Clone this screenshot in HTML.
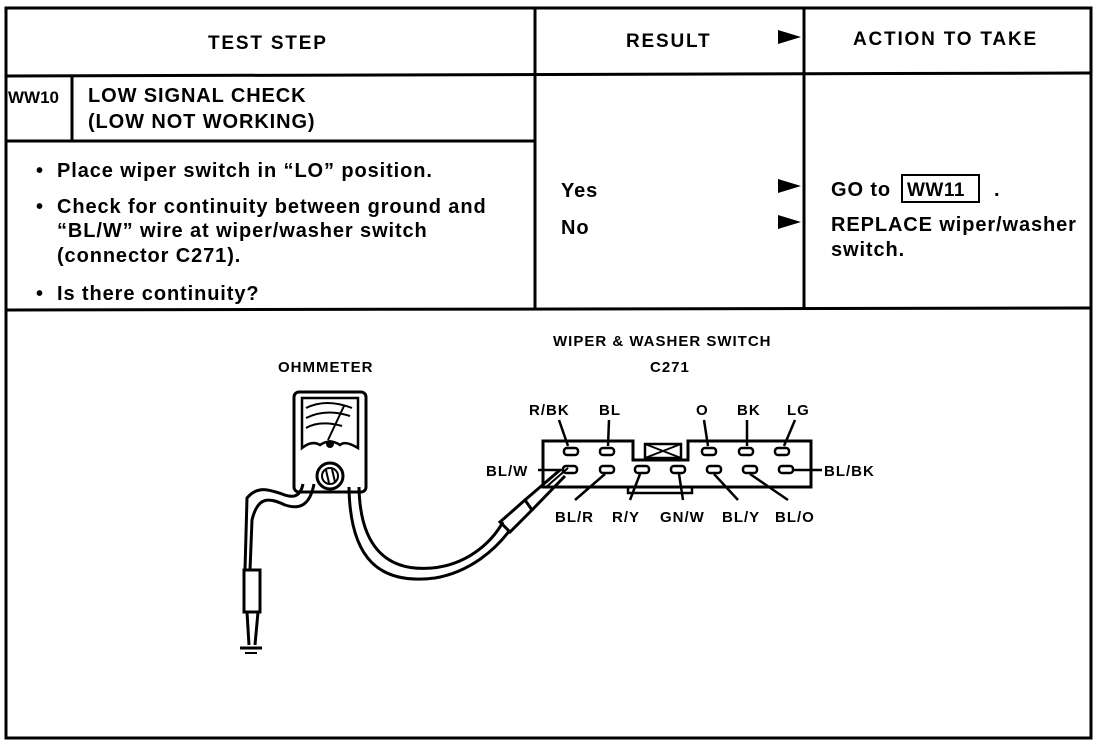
<!DOCTYPE html>
<html><head><meta charset="utf-8"><style>
html,body{margin:0;padding:0;background:#fff;}
svg{display:block;}
text{font-family:"Liberation Sans",Arial,sans-serif;fill:#000;}
.h{font-weight:bold;font-size:19px;letter-spacing:1.8px;}
.t{font-size:20px;font-weight:bold;letter-spacing:0.9px;}
.s{font-size:15px;font-weight:bold;letter-spacing:1px;}
</style></head><body>
<svg width="1120" height="740" viewBox="0 0 1120 740" xmlns="http://www.w3.org/2000/svg">
<g stroke="#000" stroke-width="3" fill="none">
<rect x="6" y="8" width="1085" height="730"/>
<line x1="535" y1="8" x2="535" y2="310"/>
<line x1="804" y1="8" x2="804" y2="310"/>
<line x1="6" y1="76" x2="1091" y2="73"/>
<line x1="6" y1="141" x2="535" y2="141"/>
<line x1="72" y1="76" x2="72" y2="141"/>
<line x1="6" y1="310" x2="1091" y2="308"/>
<rect x="902" y="175" width="77" height="27" stroke-width="2"/>
</g>
<g fill="#000">
<polygon points="778,30 801,37 778,44"/>
<polygon points="778,179 801,186 778,193"/>
<polygon points="778,215 801,222 778,229"/>
</g>
<text class="h" x="208" y="49">TEST STEP</text>
<text class="h" x="626" y="47">RESULT</text>
<text class="h" x="853" y="45">ACTION TO TAKE</text>
<text class="h" x="8" y="103" style="font-size:17px;letter-spacing:0">WW10</text>
<text class="t" x="88" y="102">LOW SIGNAL CHECK</text>
<text class="t" x="88" y="128">(LOW NOT WORKING)</text>
<text class="t" x="36" y="177">•</text>
<text class="t" x="57" y="177">Place wiper switch in “LO” position.</text>
<text class="t" x="36" y="213">•</text>
<text class="t" x="57" y="213">Check for continuity between ground and</text>
<text class="t" x="57" y="237">“BL/W” wire at wiper/washer switch</text>
<text class="t" x="57" y="262">(connector C271).</text>
<text class="t" x="36" y="300">•</text>
<text class="t" x="57" y="300">Is there continuity?</text>
<text class="t" x="561" y="197">Yes</text>
<text class="t" x="561" y="234">No</text>
<text class="t" x="831" y="196">GO to</text>
<text class="h" x="907" y="196" style="letter-spacing:0.5px">WW11</text>
<text class="t" x="994" y="196">.</text>
<text class="t" x="831" y="231">REPLACE wiper/washer</text>
<text class="t" x="831" y="256">switch.</text>

<text class="s" x="553" y="346">WIPER &amp; WASHER SWITCH</text>
<text class="s" x="650" y="372">C271</text>
<text class="s" x="278" y="372">OHMMETER</text>

<g stroke="#000" stroke-width="3" fill="none">
<rect x="294" y="392" width="72" height="100" rx="5"/>
<path d="M302 398 H358 V448 Q345 440 340 445 Q330 438 320 445 Q312 440 302 448 Z" stroke-width="2.5"/>
<path d="M306 408 Q326 398 352 408 M306 418 Q326 408 350 416 M306 428 Q320 420 342 426" stroke-width="2"/>
<line x1="328" y1="440" x2="344" y2="406" stroke-width="2"/>
<circle cx="330" cy="444" r="2.5" fill="#000"/>
<circle cx="330" cy="476" r="13"/>
<circle cx="330" cy="476" r="8" stroke-width="2"/>
<line x1="326" y1="470" x2="329" y2="483" stroke-width="2"/>
<line x1="332" y1="469" x2="335" y2="482" stroke-width="2"/>
<path d="M314 484 C310 505 300 510 285 505 C270 498 258 495 252 520 L250 570"/>
<path d="M303 484 C300 498 292 498 282 494 C270 490 258 485 247 498 L245 570"/>
<rect x="244" y="570" width="16" height="42"/>
<path d="M247 612 L249 645 M258 612 L255 645"/>
<line x1="240" y1="648" x2="262" y2="648"/>
<line x1="245" y1="653" x2="257" y2="653" stroke-width="2"/>
<path d="M349 487 C350 560 380 585 435 578 C470 572 495 550 510 530"/>
<path d="M359 487 C360 545 385 572 432 568 C465 565 490 545 503 522"/>
<path d="M500 522 L525 500 L532 510 L510 532 Z"/>
<path d="M525 500 L560 470 M532 510 L565 476"/>
<line x1="545" y1="488" x2="568" y2="468" stroke-width="2"/>
<path d="M543 441 H633 V460 H688 V441 H811 V487 H543 Z"/>
<rect x="645" y="444" width="36" height="14" stroke-width="2.5"/>
<path d="M645 444 L681 458 M645 458 L681 444" stroke-width="2"/>
<rect x="628" y="487" width="64" height="6" stroke-width="2.5"/>
<g stroke-width="2.5">
<rect x="564" y="448" width="14" height="7" rx="3"/>
<rect x="600" y="448" width="14" height="7" rx="3"/>
<rect x="702" y="448" width="14" height="7" rx="3"/>
<rect x="739" y="448" width="14" height="7" rx="3"/>
<rect x="775" y="448" width="14" height="7" rx="3"/>
<rect x="563" y="466" width="14" height="7" rx="3"/>
<rect x="600" y="466" width="14" height="7" rx="3"/>
<rect x="635" y="466" width="14" height="7" rx="3"/>
<rect x="671" y="466" width="14" height="7" rx="3"/>
<rect x="707" y="466" width="14" height="7" rx="3"/>
<rect x="743" y="466" width="14" height="7" rx="3"/>
<rect x="779" y="466" width="14" height="7" rx="3"/>
</g>
<g stroke-width="2.5">
<line x1="559" y1="420" x2="568" y2="446"/>
<line x1="609" y1="420" x2="608" y2="446"/>
<line x1="704" y1="420" x2="708" y2="446"/>
<line x1="747" y1="420" x2="747" y2="446"/>
<line x1="795" y1="420" x2="784" y2="446"/>
<line x1="538" y1="470" x2="562" y2="470"/>
<line x1="794" y1="470" x2="822" y2="470"/>
<line x1="605" y1="474" x2="575" y2="500"/>
<line x1="640" y1="474" x2="630" y2="500"/>
<line x1="679" y1="474" x2="683" y2="500"/>
<line x1="714" y1="474" x2="738" y2="500"/>
<line x1="750" y1="474" x2="788" y2="500"/>
</g>
</g>
<text class="s" x="529" y="415">R/BK</text>
<text class="s" x="599" y="415">BL</text>
<text class="s" x="696" y="415">O</text>
<text class="s" x="737" y="415">BK</text>
<text class="s" x="787" y="415">LG</text>
<text class="s" x="486" y="476">BL/W</text>
<text class="s" x="824" y="476">BL/BK</text>
<text class="s" x="555" y="522">BL/R</text>
<text class="s" x="612" y="522">R/Y</text>
<text class="s" x="660" y="522">GN/W</text>
<text class="s" x="722" y="522">BL/Y</text>
<text class="s" x="775" y="522">BL/O</text>
</svg>
</body></html>
